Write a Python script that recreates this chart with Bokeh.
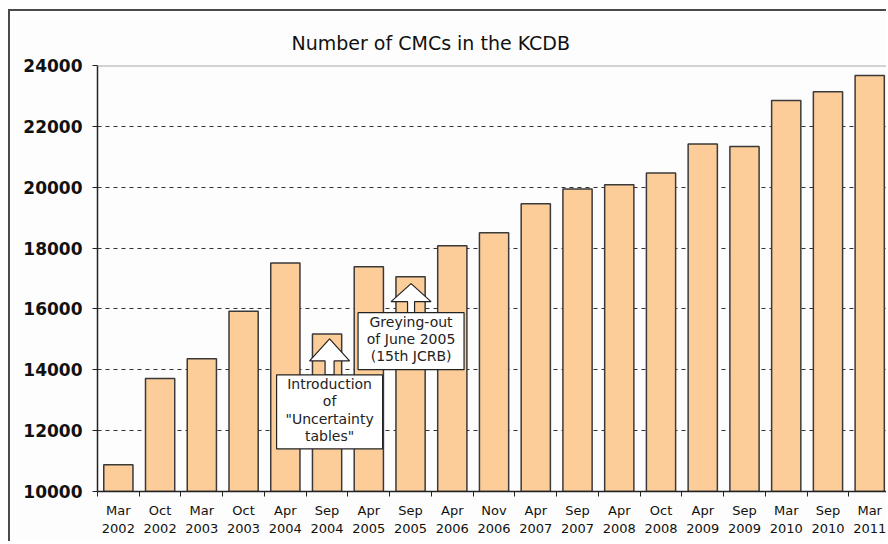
from bokeh.plotting import figure
from bokeh.models import Range1d, FixedTicker, Span
from bokeh.core.properties import value
from bokeh.embed import file_html
from bokeh.resources import INLINE

# ---------------- data ----------------
periods = ["Mar 2002", "Oct 2002", "Mar 2003", "Oct 2003", "Apr 2004", "Sep 2004",
           "Apr 2005", "Sep 2005", "Apr 2006", "Nov 2006", "Apr 2007", "Sep 2007",
           "Apr 2008", "Oct 2008", "Apr 2009", "Sep 2009", "Mar 2010", "Sep 2010",
           "Mar 2011"]
cmc_counts = [10880, 13710, 14360, 15920, 17510, 15180,
              17390, 17060, 18080, 18500, 19460, 19940,
              20080, 20470, 21420, 21340, 22850, 23140,
              23670]
y_ticks = [10000, 12000, 14000, 16000, 18000, 20000, 22000, 24000]
title_text = "Number of CMCs in the KCDB"
note_periods = ["Sep 2004", "Sep 2005"]
note_texts = ['Introduction\nof\n"Uncertainty\ntables"',
              'Greying-out\nof June 2005\n(15th JCRB)']

# ---------------- layout / style ----------------
W, H = 878, 532
ML, MR, MT, MB = 87, 0, 54, 52
Y0, Y1 = 10000, 24000
X0, X1 = 0, 18.95
BG = "#FCFDFC"
FONT = "DejaVu Sans"

p = figure(width=W, height=H, x_range=Range1d(X0, X1), y_range=Range1d(Y0, Y1),
           output_backend="svg", toolbar_location=None,
           min_border_left=ML, min_border_right=MR, min_border_top=MT, min_border_bottom=MB,
           background_fill_color=BG, border_fill_color=BG, outline_line_color=None)
p.styles = {"margin-left": "8px", "margin-top": "9px",
            "border-left": "2px solid #4a4a4a", "border-top": "2px solid #4a4a4a"}

# title
p.title.text = title_text
p.title.align = "left"
p.title.offset = 194
p.title.standoff = 23
p.title.text_font = FONT
p.title.text_font_size = "19px"
p.title.text_font_style = "normal"
p.title.text_color = "#111111"

# bars
centers = [i + 0.5 for i in range(len(periods))]
bounds = list(range(len(periods) + 1))
p.vbar(x=centers, top=cmc_counts, bottom=Y0, width=0.7,
       fill_color="#FCCC99", line_color="#3a3a3a", line_width=1.5)

# top frame line
p.add_layout(Span(location=Y1, dimension="width", line_color="#A8A8A8", line_width=2))

# y axis
p.yaxis.ticker = FixedTicker(ticks=y_ticks)
p.yaxis.major_label_text_font = FONT
p.yaxis.major_label_text_font_size = "17px"
p.yaxis.major_label_text_font_style = "bold"
p.yaxis.major_label_text_color = "#111111"
p.yaxis.major_tick_out = 5
p.yaxis.major_tick_in = 0
p.yaxis.minor_tick_line_color = None
p.yaxis.major_label_standoff = 10
p.yaxis.axis_line_color = "#222222"
p.yaxis.axis_line_width = 1.5
p.yaxis.major_tick_line_color = "#222222"

# x axis
p.xaxis.ticker = FixedTicker(ticks=centers, minor_ticks=bounds)
p.xaxis.major_label_overrides = {c: lab.replace(" ", "\n") for c, lab in zip(centers, periods)}
p.xaxis.major_tick_line_color = None
p.xaxis.minor_tick_out = 5
p.xaxis.minor_tick_in = 0
p.xaxis.minor_tick_line_color = "#222222"
p.xaxis.axis_line_color = "#222222"
p.xaxis.axis_line_width = 1.5
p.xaxis.major_label_text_font = FONT
p.xaxis.major_label_text_font_size = "13px"
p.xaxis.major_label_text_line_height = 1.2
p.xaxis.major_label_text_color = "#111111"
p.xaxis.major_label_standoff = 5

# grid
p.xgrid.grid_line_color = None
p.ygrid.ticker = FixedTicker(ticks=y_ticks[1:-1])
p.ygrid.grid_line_color = "#333333"
p.ygrid.grid_line_dash = "4 4"
p.ygrid.grid_line_width = 1

# ---------------- annotations (block arrows + boxes) ----------------
upp = (Y1 - Y0) / (H - MT - MB)          # data units per pixel (y)
pxx = (W - ML - MR) / (X1 - X0)          # pixels per data unit (x)
note_styles = [
    dict(dx=2.5, tip_gap=5, head_len=22, head_half=20, shaft_half=4.5, box_drop=36, box_w=106, box_h=74),
    dict(dx=0.5, tip_gap=7, head_len=18, head_half=20, shaft_half=3.5, box_drop=29, box_w=106, box_h=57),
]
for per, txt, st in zip(note_periods, note_texts, note_styles):
    i = periods.index(per)
    cx = centers[i] + st["dx"] / pxx
    tip = cmc_counts[i] - st["tip_gap"] * upp
    base = tip - st["head_len"] * upp
    box_top = tip - st["box_drop"] * upp
    hh = st["head_half"] / pxx
    sh = st["shaft_half"] / pxx
    xs = [cx, cx + hh, cx + sh, cx + sh, cx - sh, cx - sh, cx - hh]
    ys = [tip, base, base, box_top, box_top, base, base]
    p.patch(xs, ys, fill_color="white", line_color="#222222", line_width=1.2)
    bw = st["box_w"] / pxx / 2
    p.quad(left=[cx - bw], right=[cx + bw], top=[box_top], bottom=[box_top - st["box_h"] * upp],
           fill_color="white", line_color="#222222", line_width=1.2)
    p.text(x=[cx], y=[box_top - 1.5 * upp], text=[txt], text_align="center", text_baseline="top",
           text_font=value(FONT), text_font_size="14px", text_line_height=1.07, text_color="#222222")

open("out.html", "w").write(file_html(p, INLINE))
